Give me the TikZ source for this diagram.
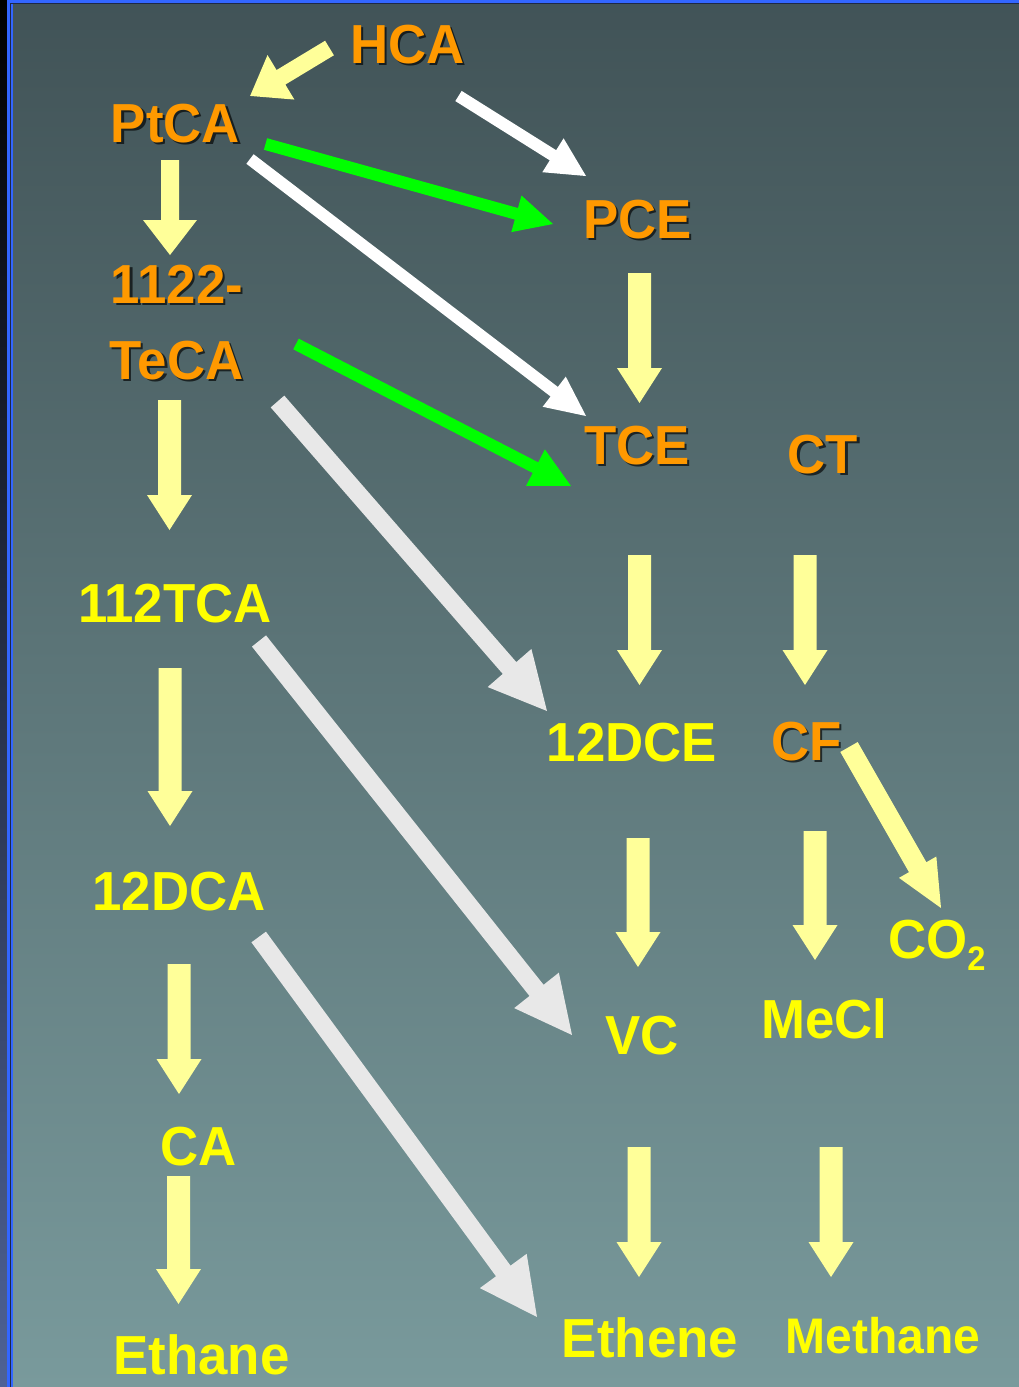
\documentclass[tikz,border=0pt]{standalone}
\usepackage{fontspec}
\setmainfont[FakeStretch=0.96]{Liberation Sans}
\usetikzlibrary{calc}

\definecolor{bgtop}{RGB}{65,83,87}
\definecolor{bgbot}{RGB}{121,154,156}
\definecolor{lblorange}{RGB}{255,153,0}
\definecolor{lblyellow}{RGB}{255,255,0}
\definecolor{arryellow}{RGB}{255,255,153}
\definecolor{arrgrey}{RGB}{232,232,232}
\definecolor{arrgreen}{RGB}{0,255,0}
\definecolor{rimblue}{RGB}{51,102,255}
\definecolor{rimdark}{RGB}{30,40,70}

\tikzset{
  lbl/.style={font=\fontsize{55}{60}\selectfont\bfseries, inner sep=0pt, anchor=base},
  orangelbl/.style={lbl, text=lblorange},
  shadowlbl/.style={lbl, text=black, opacity=0.65},
  yellowlbl/.style={lbl, text=lblyellow},
  yarrow/.style={fill=arryellow},
  warrow/.style={fill=white},
  garrow/.style={fill=arrgreen},
  grarrow/.style={fill=arrgrey}
}

% orange label with a dark drop shadow: name, position, text
\newcommand\olabel[3]{%
  \node[shadowlbl] (#1-shadow) at ($(#2)+(2.2,2.2)$) {#3};
  \node[orangelbl] (#1) at (#2) {#3};
}

% block arrow: style, tail, tip, shaft width, head width, head length
\newcommand\blockarrow[6]{%
  \fill[#1] let \p1=(#2), \p2=(#3),
    \n1={veclen(\x2-\x1,\y2-\y1)}, \n2={atan2(\y2-\y1,\x2-\x1)} in
    [shift={(\p1)}, rotate=\n2]
    (0pt,{-#4/2*1pt}) -- ({(\n1-#6)*1pt},{-#4/2*1pt}) -- ({(\n1-#6)*1pt},{-#5/2*1pt})
    -- ({\n1*1pt},0pt) -- ({(\n1-#6)*1pt},{#5/2*1pt}) -- ({(\n1-#6)*1pt},{#4/2*1pt})
    -- (0pt,{#4/2*1pt}) -- cycle;
}

\begin{document}
\begin{tikzpicture}[x=1pt, y=-1pt]
\useasboundingbox (0,0) rectangle (1019,1387);

% background and frame
\shade[top color=bgtop, bottom color=bgbot] (0,0) rectangle (1019,1387);
\shade[top color=black, bottom color={rgb,255:red,78;green,98;blue,150}] (0,0) rectangle (7,1387);
\fill[rimblue] (7,0) rectangle (9.5,1387);
\fill[rimdark] (9.5,3) rectangle (11,1387);
\fill[rimblue] (11,3) rectangle (12.8,1387);
\fill[rimblue] (7,0) rectangle (1019,2.7);
\fill[rimdark] (11,2.7) rectangle (1019,3.8);

% compound labels
\olabel{HCA}{407.5,63}{HCA}
\olabel{PtCA}{175.5,142}{PtCA}
\olabel{PCE}{637.5,238}{PCE}
\olabel{TeCAa}{177,303}{1122-}
\olabel{TeCA}{176.5,379}{TeCA}
\olabel{TCE}{637,464}{TCE}
\olabel{CT}{823,473}{CT}
\olabel{CF}{806.5,760}{CF}
\node[yellowlbl] (TCA) at (175,622) {112TCA};
\node[yellowlbl] (DCE) at (632,761) {12DCE};
\node[yellowlbl] (DCA) at (179,910) {12DCA};
\node[yellowlbl, anchor=base west] (CO2) at (888,958)
  {CO\raisebox{-12pt}{\fontsize{34}{34}\selectfont\bfseries 2}};
\node[yellowlbl] (VC) at (642,1054) {VC};
\node[yellowlbl] (MeCl) at (824.5,1038) {MeCl};
\node[yellowlbl] (CA) at (198.5,1165) {CA};
\node[yellowlbl] (Ethane) at (201.5,1374) {Ethane};
\node[yellowlbl] (Ethene) at (650,1357) {Ethene};
\node[yellowlbl, font=\fontsize{50}{54}\selectfont\bfseries] (Methane) at (883,1353) {Methane};

% arrow end points
\coordinate (v1s) at (170,160);    \coordinate (v1e) at (170,255);
\coordinate (v2s) at (639.5,273);  \coordinate (v2e) at (639.5,403);
\coordinate (v3s) at (169.5,400);  \coordinate (v3e) at (169.5,530);
\coordinate (v4s) at (639.5,555);  \coordinate (v4e) at (639.5,685);
\coordinate (v5s) at (805,555);    \coordinate (v5e) at (805,685);
\coordinate (v6s) at (170,668);    \coordinate (v6e) at (170,826);
\coordinate (v7s) at (638,838);    \coordinate (v7e) at (638,967);
\coordinate (v8s) at (815,831);    \coordinate (v8e) at (815,960);
\coordinate (v9s) at (179,964);    \coordinate (v9e) at (179,1094);
\coordinate (v10s) at (178.5,1176); \coordinate (v10e) at (178.5,1304);
\coordinate (v11s) at (639,1147);  \coordinate (v11e) at (639,1277);
\coordinate (v12s) at (831,1147);  \coordinate (v12e) at (831,1277);

\coordinate (d1s) at (329.5,48);   \coordinate (d1e) at (250,96);
\coordinate (d2s) at (458.5,96);   \coordinate (d2e) at (586,176);
\coordinate (d3s) at (265.5,144);  \coordinate (d3e) at (553,224);
\coordinate (d4s) at (250,159);    \coordinate (d4e) at (586,416);
\coordinate (d5s) at (296,344);    \coordinate (d5e) at (571,486);
\coordinate (d6s) at (277.5,401.5); \coordinate (d6e) at (547,711);
\coordinate (d7s) at (259,641);    \coordinate (d7e) at (572,1035);
\coordinate (d8s) at (258.7,937);  \coordinate (d8e) at (537,1317);
\coordinate (d9s) at (849,747);    \coordinate (d9e) at (941,908);

% vertical reaction arrows
\blockarrow{yarrow}{v1s}{v1e}{18}{54}{35}
\blockarrow{yarrow}{v2s}{v2e}{23}{45}{35}
\blockarrow{yarrow}{v3s}{v3e}{23}{45}{35}
\blockarrow{yarrow}{v4s}{v4e}{23}{45}{35}
\blockarrow{yarrow}{v5s}{v5e}{23}{45}{35}
\blockarrow{yarrow}{v6s}{v6e}{23}{45}{35}
\blockarrow{yarrow}{v7s}{v7e}{23}{45}{35}
\blockarrow{yarrow}{v8s}{v8e}{23}{45}{35}
\blockarrow{yarrow}{v9s}{v9e}{23}{45}{35}
\blockarrow{yarrow}{v10s}{v10e}{23}{45}{35}
\blockarrow{yarrow}{v11s}{v11e}{23}{45}{35}
\blockarrow{yarrow}{v12s}{v12e}{23}{45}{35}

% diagonal reaction arrows
\blockarrow{yarrow}{d1s}{d1e}{17}{52}{36}
\blockarrow{warrow}{d2s}{d2e}{12}{40}{39}
\blockarrow{garrow}{d3s}{d3e}{12}{38}{38}
\blockarrow{warrow}{d4s}{d4e}{12}{38}{40}
\blockarrow{garrow}{d5s}{d5e}{12}{41}{40}
\blockarrow{grarrow}{d6s}{d6e}{18}{58}{57}
\blockarrow{grarrow}{d7s}{d7e}{18}{57}{57}
\blockarrow{grarrow}{d8s}{d8e}{18}{58}{57}
\blockarrow{yarrow}{d9s}{d9e}{20}{43}{47}
\end{tikzpicture}
\end{document}
